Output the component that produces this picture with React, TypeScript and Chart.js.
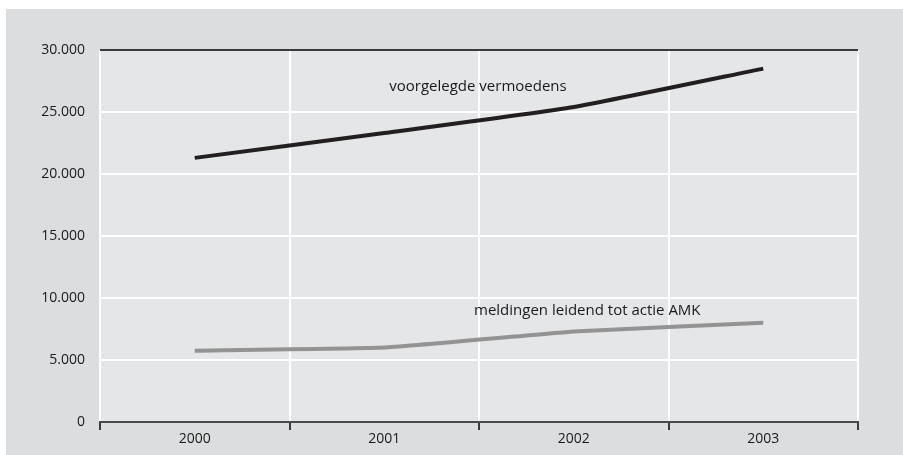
import React, { useEffect, useRef } from "react";
import { Chart, registerables } from "chart.js";

Chart.register(...registerables);

const categories = ["2000", "2001", "2002", "2003"];
const vermoedens = [21300, 23300, 25400, 28500];
const meldingen = [5750, 6000, 7300, 8000];
const yTicks = [0, 5000, 10000, 15000, 20000, 25000, 30000];
const labelVermoedens = "voorgelegde vermoedens";
const labelMeldingen = "meldingen leidend tot actie AMK";

const FONT = "'Open Sans', 'DejaVu Sans', sans-serif";

const fmt = (v: number) =>
  v === 0 ? "0" : String(v).replace(/\B(?=(\d{3})+(?!\d))/g, ".");

const framePlugin = {
  id: "framePlugin",
  beforeDraw(chart: any) {
    const { ctx, chartArea } = chart;
    ctx.save();
    ctx.fillStyle = "#dcdddf";
    ctx.fillRect(6, 9, chart.width - 6, chart.height - 9);
    ctx.fillStyle = "#e5e6e8";
    ctx.fillRect(
      chartArea.left,
      chartArea.top,
      chartArea.right - chartArea.left,
      chartArea.bottom - chartArea.top
    );
    ctx.restore();
  },
  afterDraw(chart: any) {
    const { ctx, chartArea, scales } = chart;
    ctx.save();
    ctx.strokeStyle = "#3a3a3a";
    ctx.lineWidth = 2;
    ctx.beginPath();
    ctx.moveTo(chartArea.left, chartArea.top);
    ctx.lineTo(chartArea.right, chartArea.top);
    ctx.stroke();

    ctx.fillStyle = "#1a1a1a";
    ctx.font = `15px ${FONT}`;
    ctx.textBaseline = "middle";
    ctx.textAlign = "left";
    const x = scales.x;
    const y = scales.y;
    ctx.fillText(labelVermoedens, x.getPixelForValue(1) + 5, y.getPixelForValue(27000));
    ctx.fillText(labelMeldingen, x.getPixelForValue(1.5) - 5, y.getPixelForValue(9000));
    ctx.restore();
  },
};

export default function App() {
  const ref = useRef<HTMLCanvasElement>(null);
  useEffect(() => {
    document.body.style.margin = "0";
    const chart = new Chart(ref.current!, {
      type: "line",
      data: {
        labels: categories,
        datasets: [
          {
            label: labelVermoedens,
            data: vermoedens,
            borderColor: "#231f20",
            borderWidth: 4,
            pointRadius: 0,
            tension: 0.15,
          },
          {
            label: labelMeldingen,
            data: meldingen,
            borderColor: "#939393",
            borderWidth: 4,
            pointRadius: 0,
            tension: 0.1,
          },
        ],
      },
      options: {
        animation: false,
        responsive: false,
        layout: { padding: { top: 50, right: 45, left: 0, bottom: 0 } },
        plugins: { legend: { display: false }, tooltip: { enabled: false } },
        scales: {
          x: {
            type: "category",
            offset: true,
            grid: {
              offset: true,
              color: "#ffffff",
              lineWidth: 2,
              tickColor: "#3a3a3a",
              tickLength: 8,
              drawTicks: true,
            },
            border: { display: true, color: "#4a4a4a", width: 2 },
            ticks: {
              color: "#1a1a1a",
              font: { family: FONT, size: 14 },
              padding: 1,
              maxRotation: 0,
            },
            afterFit(scale: any) {
              scale.height = 33;
            },
          },
          y: {
            min: 0,
            max: 30000,
            afterBuildTicks(scale: any) {
              scale.ticks = yTicks.map((v) => ({ value: v }));
            },
            grid: { color: "#ffffff", lineWidth: 2, drawTicks: false },
            border: { display: false },
            ticks: {
              color: "#1a1a1a",
              font: { family: FONT, size: 14 },
              padding: 15,
              callback: (v: any) => fmt(Number(v)),
            },
            afterFit(scale: any) {
              scale.width = 100;
            },
          },
        },
      },
      plugins: [framePlugin],
    });
    return () => chart.destroy();
  }, []);
  return (
    <div style={{ width: 903, height: 455 }}>
      <canvas ref={ref} width={903} height={455} />
    </div>
  );
}
